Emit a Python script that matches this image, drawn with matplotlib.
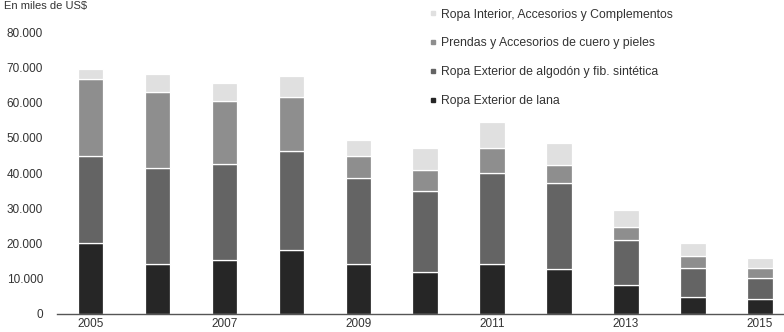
import matplotlib
matplotlib.use("Agg")
import matplotlib.pyplot as plt
from matplotlib.lines import Line2D
from matplotlib.ticker import FuncFormatter

plt.rcParams['font.family'] = ['Liberation Sans', 'DejaVu Sans']

years = [2005, 2006, 2007, 2008, 2009, 2010, 2011, 2012, 2013, 2014, 2015]
lana = [20000, 14200, 15100, 18000, 14000, 11700, 14200, 12800, 8100, 4600, 4000]
algodon = [24800, 27200, 27400, 28300, 24700, 23100, 25900, 24400, 12800, 8400, 6200]
cuero = [22000, 21800, 18100, 15300, 6100, 6100, 7100, 5200, 3800, 3400, 2800]
interior = [2700, 4900, 5100, 6100, 4600, 6100, 7400, 6100, 4800, 3800, 2900]

series_names = [
    "Ropa Exterior de lana",
    "Ropa Exterior de algodón y fib. sintética",
    "Prendas y Accesorios de cuero y pieles",
    "Ropa Interior, Accesorios y Complementos",
]
series_values = [lana, algodon, cuero, interior]
series_colors = ["#262626", "#646464", "#8e8e8e", "#e0e0e0"]

tick_years = [2005, 2007, 2009, 2011, 2013, 2015]
y_ticks = [0, 10000, 20000, 30000, 40000, 50000, 60000, 70000, 80000]

fig = plt.figure(figsize=(7.84, 3.32), dpi=100)
ax = fig.add_axes([0.0727, 0.0557, 0.9273, 0.8464])

bottom = [0] * len(years)
for vals, color in zip(series_values, series_colors):
    ax.bar(years, vals, width=0.38, bottom=bottom, color=color,
           edgecolor="white", linewidth=0.9)
    bottom = [b + v for b, v in zip(bottom, vals)]

ax.set_xlim(2004.5, 2015.36)
ax.set_ylim(0, 80000)
ax.set_xticks(tick_years)
ax.set_yticks(y_ticks)
ax.yaxis.set_major_formatter(FuncFormatter(lambda v, p: f"{int(v):,}".replace(",", ".")))
ax.tick_params(axis="both", length=0, labelsize=8.5, labelcolor="#333333")
ax.tick_params(axis="y", pad=10)
ax.tick_params(axis="x", pad=3)
for side in ["top", "right", "left"]:
    ax.spines[side].set_visible(False)
ax.spines["bottom"].set_color("#555555")
ax.spines["bottom"].set_linewidth(1.0)

handles = [Line2D([0], [0], marker="s", linestyle="none", markersize=3,
                  markerfacecolor=c, markeredgecolor=c)
           for c in series_colors]
fig.legend(handles[::-1], series_names[::-1], loc="upper left",
           bbox_to_anchor=(0.537, 1.0), frameon=False, fontsize=8.8,
           labelcolor="#333333", handlelength=0.6, handletextpad=0.3,
           labelspacing=1.38, borderaxespad=0.3)

fig.text(0.005, 0.998, "En miles de US$", fontsize=8, color="#333333",
         ha="left", va="top")

fig.savefig("out.png", dpi=100)
